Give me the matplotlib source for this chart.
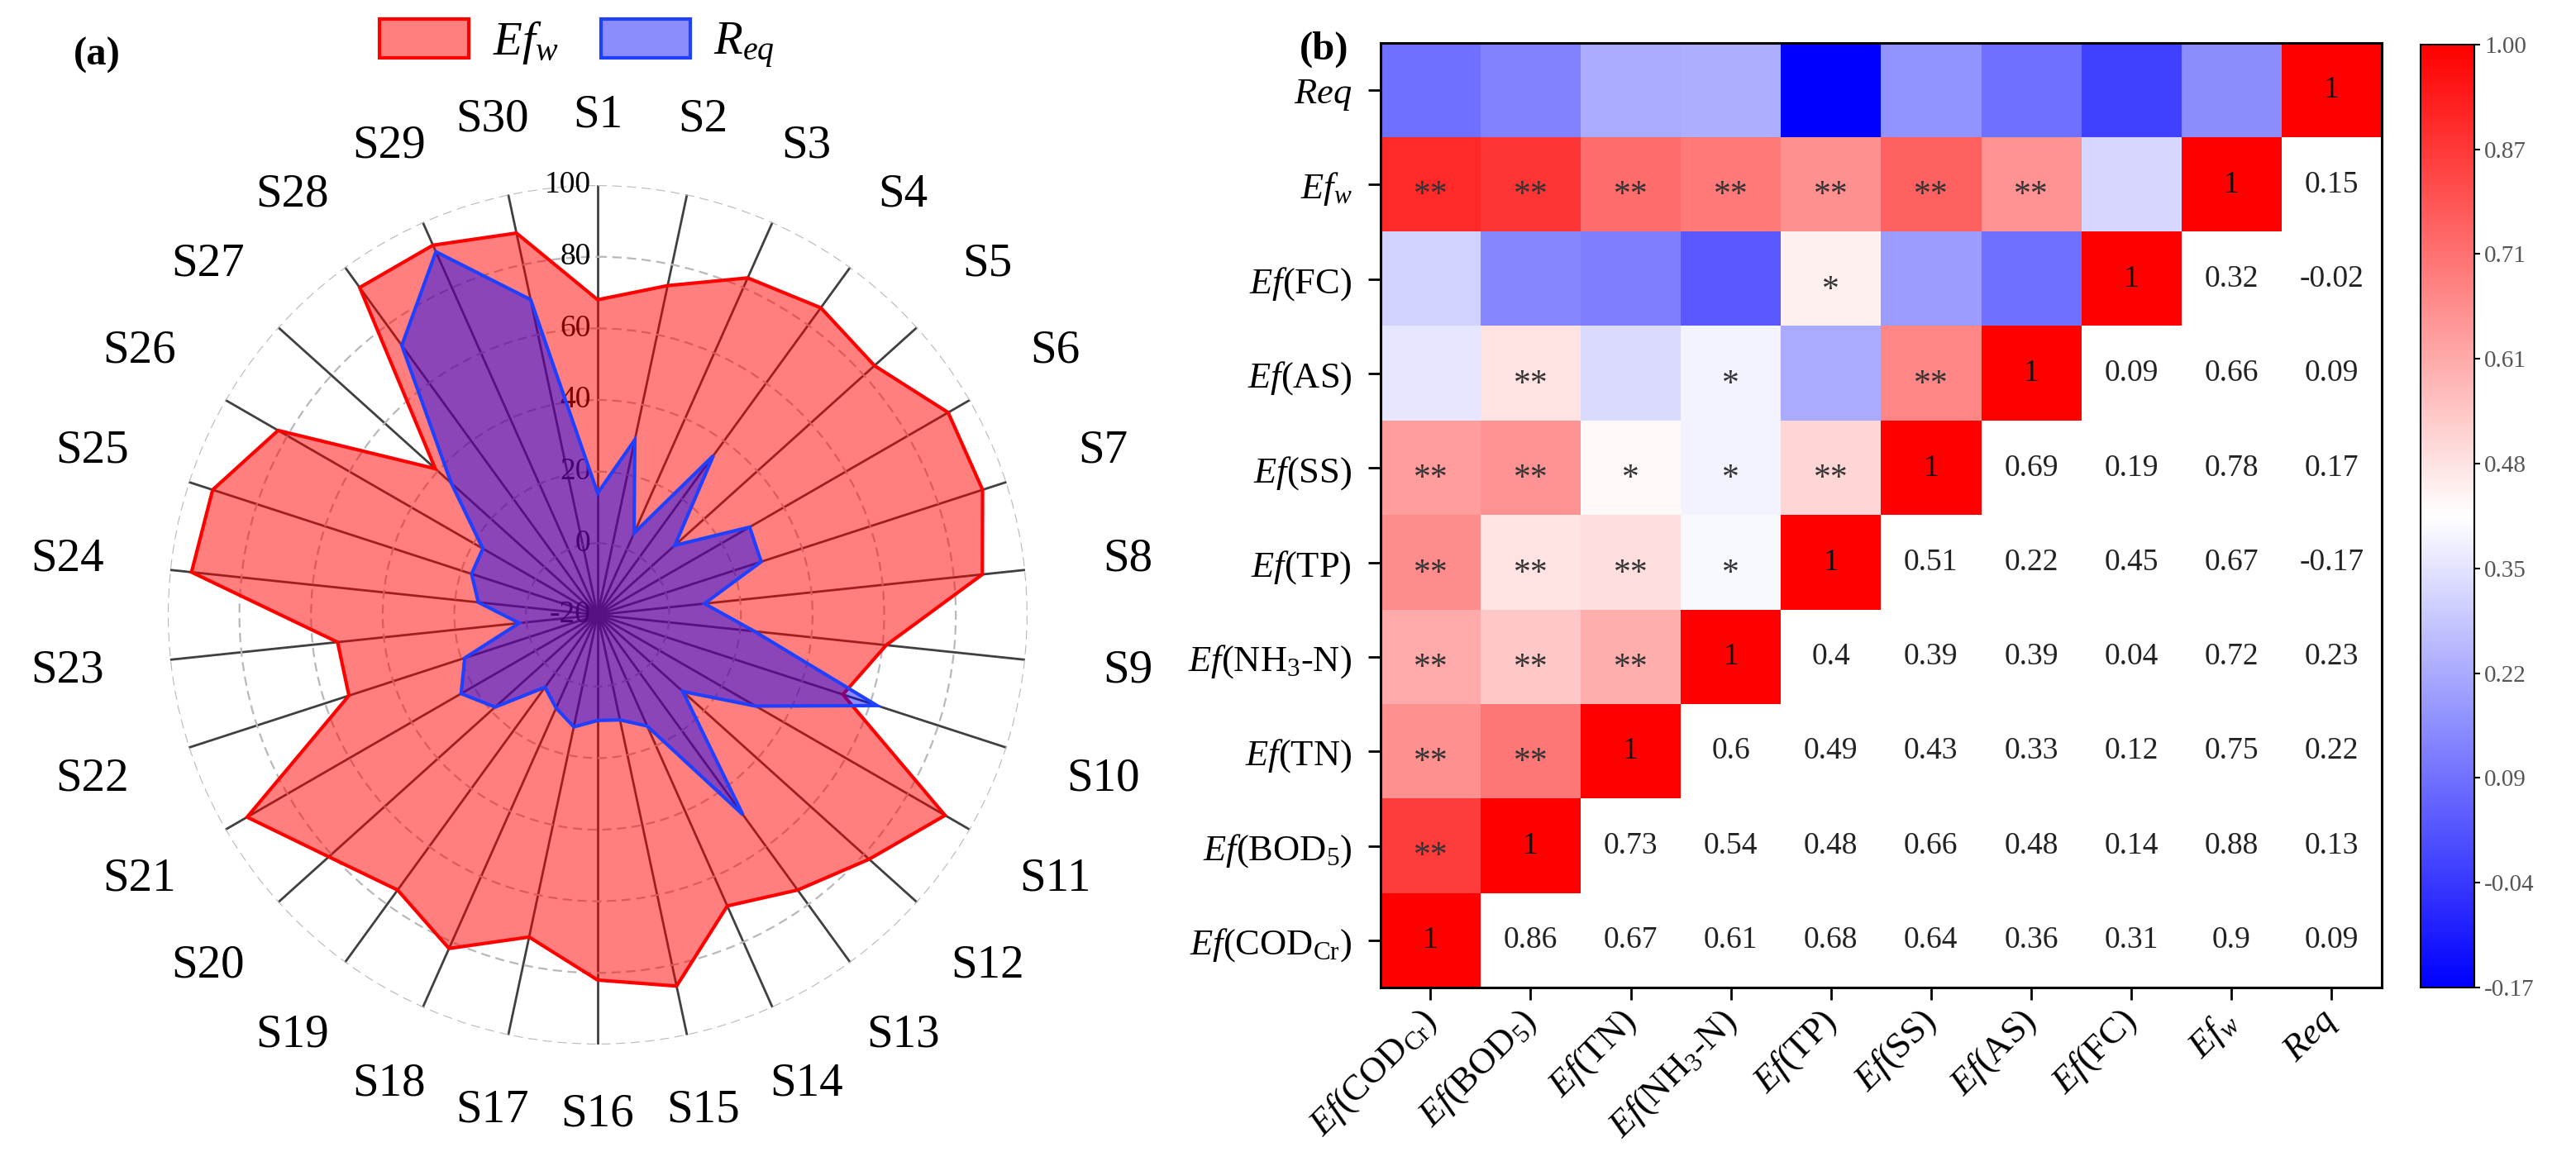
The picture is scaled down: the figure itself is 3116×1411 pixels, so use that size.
import numpy as np
import matplotlib
matplotlib.use('Agg')
import matplotlib.pyplot as plt
from matplotlib.transforms import ScaledTranslation

plt.rcParams['font.family'] = ['Liberation Serif', 'DejaVu Serif']
plt.rcParams['mathtext.fontset'] = 'custom'
plt.rcParams['mathtext.rm'] = 'Liberation Serif'
plt.rcParams['mathtext.it'] = 'Liberation Serif:italic'
plt.rcParams['mathtext.bf'] = 'Liberation Serif:bold'

# ---- radar data (a) ----
sites = ['S%d' % i for i in range(1, 31)]
ef_w = [68, 74, 83, 86, 84, 93, 93, 88, 61, 52, 92, 82, 75, 69, 86,
        82, 72, 82, 75, 81, 93, 53, 53, 94, 93, 83, 41, 93, 93, 89]
r_eq = [14, 30, 5, 35, 9, 29, 28, 10, 24, 62, 31, 12, 49, 14, 10,
        9.5, 12, 8.5, 5, 18.5, 24, 19, 2, 13.5, 17, 17, 35, 73, 91, 70]
r_ticks = [-20, 0, 20, 40, 60, 80, 100]

# ---- correlation data (b) ----
names = [r'$Ef$(COD$_{\rm Cr}$)', r'$Ef$(BOD$_5$)', r'$Ef$(TN)', r'$Ef$(NH$_3$-N)',
         r'$Ef$(TP)', r'$Ef$(SS)', r'$Ef$(AS)', r'$Ef$(FC)', r'$Ef_w$', r'$Req$']
# correlation of each variable with the ones after it in `names`
corr_cod = [0.86, 0.67, 0.61, 0.68, 0.64, 0.36, 0.31, 0.9, 0.09]
corr_bod = [0.73, 0.54, 0.48, 0.66, 0.48, 0.14, 0.88, 0.13]
corr_tn = [0.6, 0.49, 0.43, 0.33, 0.12, 0.75, 0.22]
corr_nh3 = [0.4, 0.39, 0.39, 0.04, 0.72, 0.23]
corr_tp = [0.51, 0.22, 0.45, 0.67, -0.17]
corr_ss = [0.69, 0.19, 0.78, 0.17]
corr_as = [0.09, 0.66, 0.09]
corr_fc = [0.32, -0.02]
corr_efw = [0.15]
# significance marks, same layout
sig_cod = ['**', '**', '**', '**', '**', '', '', '**', '']
sig_bod = ['**', '**', '**', '**', '**', '', '**', '']
sig_tn = ['**', '**', '*', '', '', '**', '']
sig_nh3 = ['*', '*', '*', '', '**', '']
sig_tp = ['**', '', '*', '**', '']
sig_ss = ['**', '', '**', '']
sig_as = ['', '**', '']
sig_fc = ['', '']
sig_efw = ['']
cbar_labels = ['-0.17', '-0.04', '0.09', '0.22', '0.35', '0.48', '0.61', '0.71', '0.87', '1.00']

fig = plt.figure(figsize=(31.16, 14.11), dpi=100)

# ================= (a) radar =================
ax = fig.add_axes([0.0651, 0.1042, 0.3338, 0.7370], projection='polar')
ang = np.linspace(0, 2 * np.pi, len(sites), endpoint=False)
ax.set_theta_zero_location('N')
ax.set_theta_direction(-1)
ax.set_ylim(-20, 100)
ax.set_xticks(ang)
ax.set_xticklabels([])
ax.set_yticks(r_ticks[1:])
ax.set_yticklabels([])
ax.xaxis.grid(True, color='#404040', lw=2.0, ls='-')
ax.yaxis.grid(True, color='#b8b8b8', lw=1.6, ls=(0, (5, 3)))
ax.spines['polar'].set_visible(False)
ax.set_axisbelow(True)
ax.tick_params(axis='both', length=0)

p1 = ax.fill(ang, ef_w, facecolor=(1, 0, 0, 0.5), edgecolor='#ff0000', lw=3, zorder=2)[0]
p2 = ax.fill(ang, r_eq, facecolor=(0, 0, 1, 0.45), edgecolor='#1f40ff', lw=3, zorder=3)[0]

for v in r_ticks:
    ax.annotate(str(v), xy=(0, v), xytext=(-6, 0), textcoords='offset points',
                ha='right', va='center', fontsize=27, zorder=1)

R = 520.0
for a, s in zip(ang, sites):
    d = 605 + 40 * abs(np.sin(a))
    ax.text(a, -20 + 120 * d / R, s, ha='center', va='center', fontsize=41, clip_on=False)

fig.legend([p1, p2], [r'$Ef_w$', r'$R_{eq}$'], loc='center', bbox_to_anchor=(0.224, 0.962),
           ncol=2, frameon=False, fontsize=41, handlelength=1.9, handleheight=0.9,
           columnspacing=0.9, handletextpad=0.5)
fig.text(117 / 3116, 1 - 67 / 1411, '(a)', fontsize=35, fontweight='bold', ha='center', va='center')

# ================= (b) heatmap =================
upper = [corr_cod, corr_bod, corr_tn, corr_nh3, corr_tp, corr_ss, corr_as, corr_fc, corr_efw, []]
sigs = [sig_cod, sig_bod, sig_tn, sig_nh3, sig_tp, sig_ss, sig_as, sig_fc, sig_efw, []]
n = len(names)
C = np.eye(n)
for i in range(n):
    for k, v in enumerate(upper[i]):
        C[i, i + 1 + k] = v
        C[i + 1 + k, i] = v
D = np.where(np.tril(np.ones((n, n))) > 0, C, np.nan)

hx = fig.add_axes([0.5359, 0.1531, 0.3886, 0.8101])
im = hx.imshow(D, cmap='bwr', vmin=-0.17, vmax=1, origin='lower', aspect='auto',
               interpolation='nearest')
for i in range(n):
    for j in range(n):
        if j == i:
            hx.text(j, i, '1', ha='center', va='center', fontsize=27, color='#111111')
        elif j > i:
            t = ('%.2f' % C[i, j]).rstrip('0')
            hx.text(j, i, t, ha='center', va='center', fontsize=27, color='#222222')
        else:
            s = sigs[j][i - j - 1]
            if s:
                hx.text(j, i - 0.12, s, ha='center', va='center', fontsize=30, color='#333333')

hx.set_xticks(range(n))
hx.set_yticks(range(n))
hx.set_yticklabels(names, fontsize=32)
hx.set_xticklabels(names, fontsize=32, rotation=45, ha='right', va='center',
                   rotation_mode='anchor')
off = ScaledTranslation(18 / 100, -12 / 100, fig.dpi_scale_trans)
for lab in hx.get_xticklabels():
    lab.set_transform(lab.get_transform() + off)
hx.tick_params(axis='both', direction='out', length=11, width=2, pad=14)
for sp in hx.spines.values():
    sp.set_linewidth(2.2)
fig.text(1602 / 3116, 1 - 60 / 1411, '(b)', fontsize=35, fontweight='bold', ha='center', va='center')

cax = fig.add_axes([0.9397, 0.1531, 0.0209, 0.8087])
cb = fig.colorbar(im, cax=cax)
cb.set_ticks(np.linspace(-0.17, 1, 10))
cb.set_ticklabels(cbar_labels)
cax.tick_params(labelsize=21, labelcolor='#555555', length=5, width=1.5)
cb.outline.set_linewidth(1.5)

fig.savefig('out.png', dpi=100)
